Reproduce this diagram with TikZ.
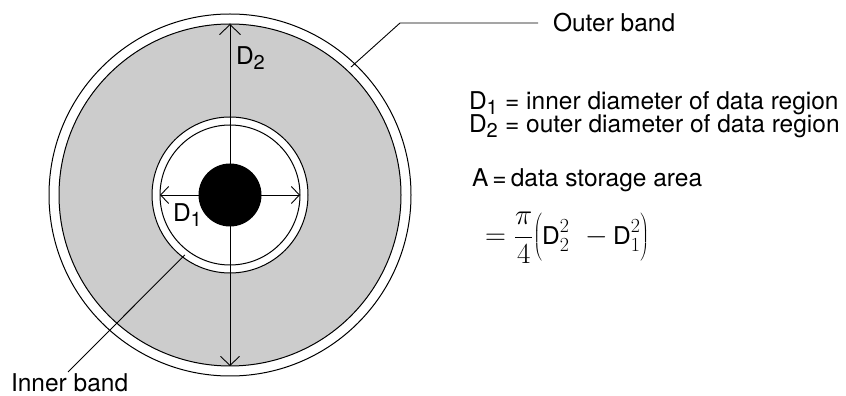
\documentclass[tikz,border=0pt]{standalone}
\usepackage{fix-cm}
\usepackage{fontspec}
\setmainfont{TeX Gyre Heros}
\DeclareMathSizes{24.5}{29}{20}{14}
\usetikzlibrary{arrows.meta,calc}
\begin{document}
\begin{tikzpicture}[x=1pt,y=1pt,line width=1pt,
  every node/.style={inner sep=0pt,outer sep=0pt},
  font=\fontsize{24.5}{29}\selectfont,
  disc/.style={circle,draw=black,line width=1pt},
  dimv/.style={line width=0.9pt,{Straight Barb[length=10pt,width=21pt]}-{Straight Barb[length=9pt,width=19pt]}},
  dimh/.style={line width=0.9pt,{Straight Barb[length=8pt,width=17pt]}-{Straight Barb[length=8pt,width=17pt]}},
  lead/.style={line width=0.9pt},
  lbl/.style={anchor=base west}]
\useasboundingbox (0,0) rectangle (846,396);
\coordinate (c) at (230,201);
% disk
\node[disc,minimum size=362pt,fill=white] (outer) at (c) {};
\node[disc,minimum size=342pt,fill=black!20] (data) at (c) {};
\node[disc,minimum size=156pt,fill=white] (bandout) at (c) {};
\node[disc,minimum size=140pt] (bandin) at (c) {};
% dimensions
\draw[dimv] (data.north) -- (data.south);
\draw[dimh] (bandin.west) -- (bandin.east);
\node[circle,fill=black,minimum size=63pt] (hub) at (c) {};
\node[lbl] (d2) at (236,331) {D\textsubscript{2}};
\node[lbl] (d1) at (173,174) {D\textsubscript{1}};
% leaders
\coordinate (ob) at ($(c)+(46.6:176)$);
\coordinate (obk) at (400,373);
\coordinate (obe) at (538,373);
\node[lbl] (obt) at (553,364) {Outer band};
\draw[lead] (ob) -- (obk) -- (obe);
\coordinate (ib) at ($(c)+(233:75)$);
\coordinate (ibe) at (68,24);
\node[lbl] (ibt) at (11,4) {Inner band};
\draw[lead] (ib) -- (ibe);
% definitions
\node[lbl] (def1) at (469,286) {D\textsubscript{1} = inner diameter of data region};
\node[lbl] (def2) at (469,263) {D\textsubscript{2} = outer diameter of data region};
\node[lbl] (defa) at (472,209) {A\,=\,data storage area};
\node[anchor=west] (form) at (485,158) {$\displaystyle =\frac{\pi}{4}\!\left(\rule[-17pt]{0pt}{46pt}\mbox{D}^{2}_{2}\;\;{-}\,\mbox{D}^{2}_{1}\right)$};
\end{tikzpicture}
\end{document}
